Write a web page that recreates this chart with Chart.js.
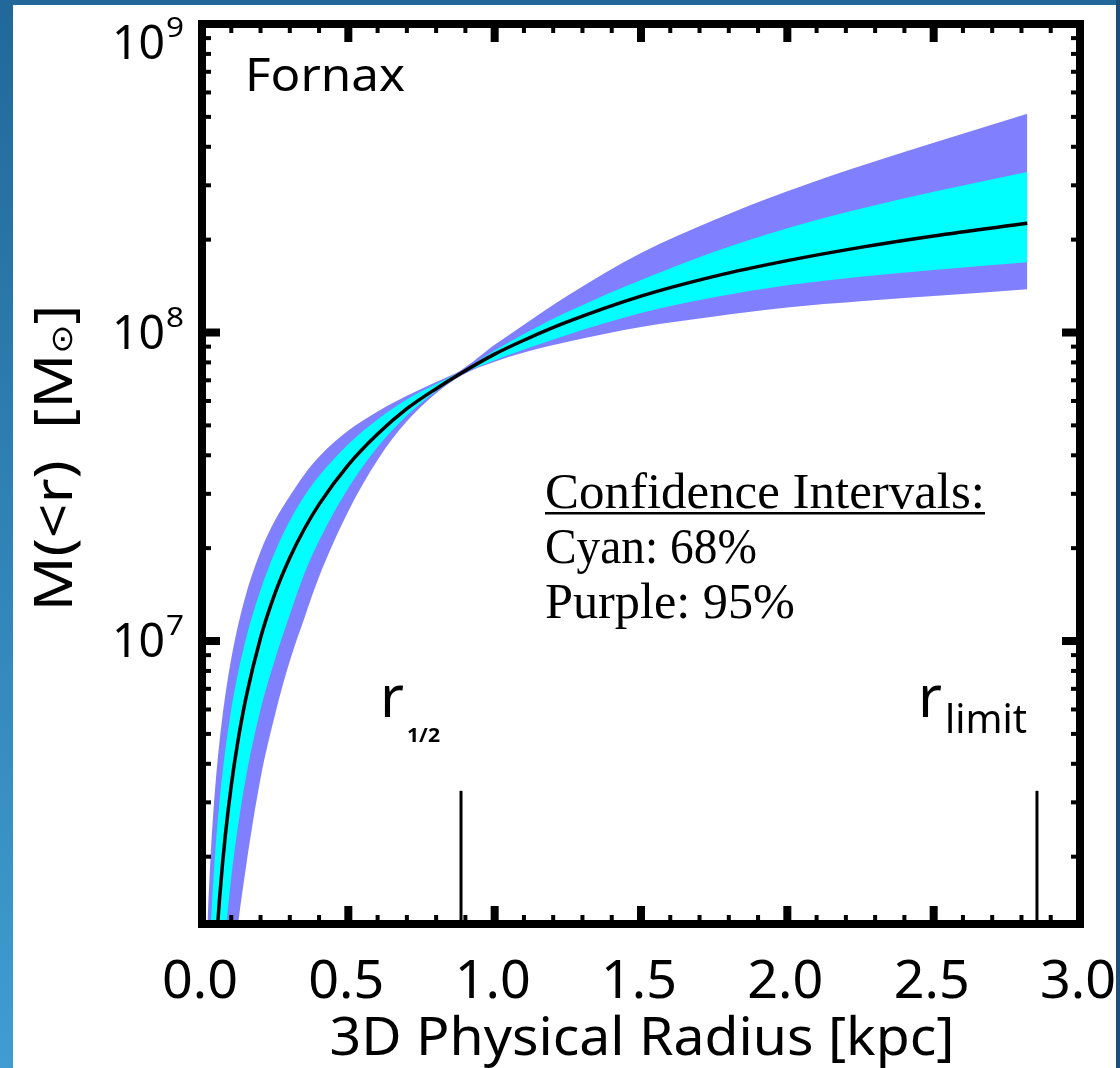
<!DOCTYPE html>
<html>
<head>
<meta charset="utf-8">
<script src="https://cdn.jsdelivr.net/npm/chart.js@4/dist/chart.umd.min.js"></script>
<style>
  html, body { margin: 0; padding: 0; background: #2a78ab; }
  canvas { display: block; }
</style>
</head>
<body>
<canvas id="c" width="1120" height="1068"></canvas>
<script>
// ---- Data ----
// 3D radius grid [kpc]
const radius = [0.015, 0.02, 0.03, 0.04, 0.05, 0.06, 0.07, 0.08, 0.10, 0.12,
                0.15, 0.20, 0.25, 0.30, 0.35, 0.40, 0.50, 0.60, 0.70, 0.80,
                0.885, 1.0, 1.1, 1.25, 1.5, 1.75, 2.0, 2.25, 2.5, 2.82];
// log10 M(<r) [Msun]
const medianLog = [5.15, 5.364, 5.66, 5.873, 6.035, 6.166, 6.277, 6.373, 6.532, 6.660,
                   6.815, 7.010, 7.156, 7.270, 7.364, 7.443, 7.571, 7.671, 7.753, 7.818,
                   7.868, 7.930, 7.975, 8.035, 8.118, 8.182, 8.233, 8.276, 8.313, 8.354];
const cyanUpperLog = [5.67, 5.838, 6.075, 6.244, 6.375, 6.482, 6.572, 6.650, 6.779, 6.882,
                      7.006, 7.165, 7.290, 7.390, 7.470, 7.535, 7.638, 7.718, 7.783, 7.833,
                      7.873, 7.942, 7.995, 8.067, 8.170, 8.262, 8.338, 8.401, 8.456, 8.520];
const cyanLowerLog = [4.67, 4.905, 5.24, 5.477, 5.661, 5.81, 5.939, 6.049, 6.233, 6.380,
                      6.557, 6.777, 6.942, 7.085, 7.219, 7.325, 7.496, 7.629, 7.731, 7.810,
                      7.864, 7.910, 7.945, 7.993, 8.063, 8.114, 8.153, 8.181, 8.203, 8.228];
const purpleUpperLog = [5.97, 6.11, 6.312, 6.462, 6.580, 6.676, 6.757, 6.827, 6.943, 7.037,
                        7.150, 7.290, 7.392, 7.470, 7.540, 7.597, 7.682, 7.744, 7.795, 7.840,
                        7.878, 7.960, 8.025, 8.120, 8.258, 8.365, 8.458, 8.540, 8.615, 8.709];
const purpleLowerLog = [4.16, 4.42, 4.79, 5.057, 5.26, 5.426, 5.567, 5.689, 5.892, 6.058,
                        6.265, 6.554, 6.763, 6.935, 7.075, 7.208, 7.421, 7.587, 7.712, 7.803,
                        7.860, 7.905, 7.935, 7.970, 8.018, 8.052, 8.081, 8.101, 8.118, 8.140];
// Marker radii [kpc] and marker top [Msun]
const markerRadii = [0.885, 2.853];
const markerLabels = [['r', '1/2'], ['r', 'limit']];
const markerTop = 3.27e6;
// Axes
const xMin = 0, xMax = 3;
const yMin = 1.21e6, yMax = 1e9;
const xTickLabels = ['0.0', '0.5', '1.0', '1.5', '2.0', '2.5', '3.0'];
const xTickValues = [0, 0.5, 1.0, 1.5, 2.0, 2.5, 3.0];
const yTickExponents = [7, 8, 9];
const galaxyName = 'Fornax';
const noteLines = ['Confidence Intervals:', 'Cyan: 68%', 'Purple: 95%'];

// ---- Build datasets ----
const toPts = arr => radius.map((r, i) => ({ x: r, y: Math.pow(10, arr[i]) }));
const CYAN = '#00ffff', PURPLE = '#8080ff';

const bandStyle = { borderWidth: 0, borderColor: 'rgba(0,0,0,0)', pointRadius: 0,
                    cubicInterpolationMode: 'monotone' };
const datasets = [
  { label: 'median', data: toPts(medianLog), borderColor: '#000', borderWidth: 3.5,
    pointRadius: 0, fill: false, cubicInterpolationMode: 'monotone' },
  Object.assign({ label: 'cyanU', data: toPts(cyanUpperLog), backgroundColor: CYAN, fill: '+1' }, bandStyle),
  Object.assign({ label: 'cyanL', data: toPts(cyanLowerLog), fill: false }, bandStyle),
  Object.assign({ label: 'purpleU', data: toPts(purpleUpperLog), backgroundColor: PURPLE, fill: '+1' }, bandStyle),
  Object.assign({ label: 'purpleL', data: toPts(purpleLowerLog), fill: false }, bandStyle),
];
markerRadii.forEach((r, i) => {
  datasets.push({ label: 'marker' + i, data: [{ x: r, y: yMin }, { x: r, y: markerTop }],
    borderColor: '#000', borderWidth: 3, pointRadius: 0, fill: false });
});

// ---- text helpers ----
function runsWidth(ctx, runs) {
  let w = 0;
  for (const r of runs) { ctx.font = r.font; w += ctx.measureText(r.t).width; }
  return w;
}
function drawRuns(ctx, runs, x, y, align, targetW) {
  const w = runsWidth(ctx, runs);
  const s = targetW ? targetW / w : 1;
  ctx.save();
  ctx.translate(x, y);
  ctx.scale(s, 1);
  let cx = align === 'center' ? -w / 2 : (align === 'right' ? -w : 0);
  ctx.textAlign = 'left';
  ctx.textBaseline = 'alphabetic';
  for (const r of runs) {
    ctx.font = r.font;
    ctx.fillText(r.t, cx, r.dy || 0);
    cx += ctx.measureText(r.t).width;
  }
  ctx.restore();
  return w * s;
}

const SANS = '"Noto Sans", "DejaVu Sans", sans-serif';
const SERIF = '"Liberation Serif", "DejaVu Serif", serif';

const decorPlugin = {
  id: 'decor',
  beforeDraw(chart) {
    const ctx = chart.ctx;
    ctx.save();
    const g = ctx.createLinearGradient(0, 0, 0, 1068);
    g.addColorStop(0, '#22689a');
    g.addColorStop(1, '#3f9dd2');
    ctx.fillStyle = g;
    ctx.fillRect(0, 0, 1120, 1068);
    ctx.fillStyle = '#1b4f78';
    ctx.fillRect(1116, 0, 4, 1068);
    ctx.fillStyle = '#ffffff';
    ctx.fillRect(13, 5, 1103, 1063);
    ctx.restore();
  },
  afterDraw(chart) {
    const ctx = chart.ctx;
    const xs = chart.scales.x, ys = chart.scales.y;
    const a = chart.chartArea;
    ctx.save();
    ctx.fillStyle = '#000';
    ctx.strokeStyle = '#000';

    // ticks: x (bottom and top)
    for (let k = 0; k <= 30; k++) {
      const v = k / 10;
      const px = xs.getPixelForValue(v);
      const major = k % 5 === 0;
      const len = major ? 18 : 9, w = major ? 8 : 4;
      ctx.fillRect(px - w / 2, a.bottom - len, w, len);
      ctx.fillRect(px - w / 2, a.top, w, len);
    }
    // ticks: y (left and right)
    for (let e = 6; e <= 8; e++) {
      for (let m = 1; m <= 9; m++) {
        const v = m * Math.pow(10, e);
        if (v < yMin || v > yMax) continue;
        const py = ys.getPixelForValue(v);
        const major = m === 1;
        const len = major ? 18 : 9, w = major ? 8 : 4;
        ctx.fillRect(a.left, py - w / 2, len, w);
        ctx.fillRect(a.right - len, py - w / 2, len, w);
      }
    }
    // frame
    ctx.lineWidth = 8;
    ctx.strokeRect(a.left, a.top, a.right - a.left, a.bottom - a.top);

    // x tick labels
    xTickValues.forEach((v, i) => {
      const px = xs.getPixelForValue(v);
      drawRuns(ctx, [{ t: xTickLabels[i], font: '52px ' + SANS }], px - 2, 998, 'center', 76);
    });
    // y tick labels 10^n
    yTickExponents.forEach(n => {
      const py = ys.getPixelForValue(Math.pow(10, n));
      const base = Math.max(py + 16, 59);
      drawRuns(ctx, [{ t: '10', font: '47px ' + SANS }], 165, base, 'right', 53);
      drawRuns(ctx, [{ t: String(n), font: '28px ' + SANS }], 166, base - 22, 'left', 18);
    });

    // axis titles
    drawRuns(ctx, [{ t: '3D Physical Radius [kpc]', font: '52px ' + SANS }], 642, 1055, 'center', 625);
    ctx.save();
    ctx.translate(72, 458);
    ctx.rotate(-Math.PI / 2);
    drawRuns(ctx, [
      { t: 'M(<r)  [M', font: '52px ' + SANS },
      { t: '\u2299', font: '30px "DejaVu Sans", sans-serif' },
      { t: ']', font: '52px ' + SANS }
    ], 0, 0, 'center', 307);
    ctx.restore();

    // galaxy name
    drawRuns(ctx, [{ t: galaxyName, font: '46px ' + SANS }], 245, 91, 'left', 160);

    // marker labels
    markerRadii.forEach((r, i) => {
      const px = xs.getPixelForValue(r);
      const [main, sub] = markerLabels[i];
      if (sub === '1/2') {
        drawRuns(ctx, [{ t: main, font: '58px ' + SANS }], px - 81, 717, 'left');
        drawRuns(ctx, [{ t: sub, font: 'bold 20px ' + SANS }], px - 54, 742, 'left', 33);
      } else {
        drawRuns(ctx, [{ t: main, font: '58px ' + SANS }], px - 119, 717, 'left');
        drawRuns(ctx, [{ t: sub, font: '40px ' + SANS }], px - 92, 733, 'left', 82);
      }
    });

    // confidence note
    const w0 = drawRuns(ctx, [{ t: noteLines[0], font: '50px ' + SERIF }], 545, 508, 'left', 440);
    ctx.fillRect(545, 512, w0, 2.5);
    drawRuns(ctx, [{ t: noteLines[1], font: '50px ' + SERIF }], 545, 563, 'left', 212);
    drawRuns(ctx, [{ t: noteLines[2], font: '50px ' + SERIF }], 545, 618, 'left', 250);

    ctx.restore();
  }
};

new Chart(document.getElementById('c'), {
  type: 'line',
  data: { datasets },
  options: {
    responsive: false,
    devicePixelRatio: 1,
    animation: false,
    layout: { padding: { left: 202, right: 40, top: 24, bottom: 144 } },
    scales: {
      x: { type: 'linear', min: xMin, max: xMax, display: false },
      y: { type: 'logarithmic', min: yMin, max: yMax, display: false }
    },
    plugins: { legend: { display: false }, tooltip: { enabled: false } },
    elements: { line: { tension: 0 } }
  },
  plugins: [decorPlugin]
});
</script>
</body>
</html>
